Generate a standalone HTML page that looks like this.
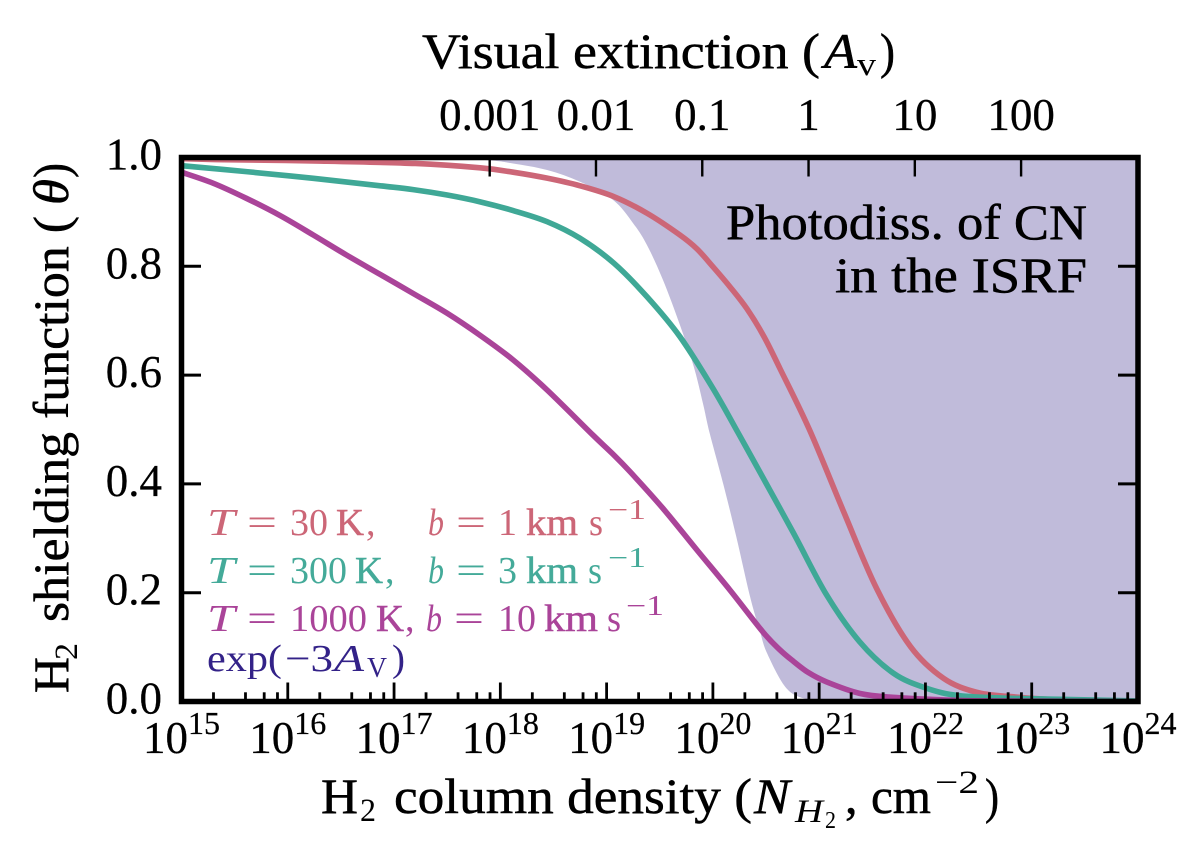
<!DOCTYPE html>
<html>
<head>
<meta charset="utf-8">
<title>H2 shielding function</title>
<style>
html,body{margin:0;padding:0;background:#fff;}
svg{display:block;}
text{font-family:"Liberation Serif","DejaVu Serif",serif;fill:#000;}
.lab{font-size:50px;stroke:#000;stroke-width:0.5px;}
.sub{font-size:33px;}
.tick{font-size:45px;stroke:#000;stroke-width:0.25px;}
.leg{font-size:38px;}
.legsup{font-size:28px;}
.i{font-style:italic;}
.red text{fill:#CC6677;}
.teal text{fill:#44AA99;}
.pur text{fill:#AA4499;}
.navy text{fill:#332288;}
</style>
</head>
<body>
<svg xmlns="http://www.w3.org/2000/svg" width="1200" height="859" viewBox="0 0 1200 859">
<defs><clipPath id="plot-clip"><rect x="181.5" y="157.5" width="956.5" height="544"/></clipPath></defs>
<rect x="0" y="0" width="1200" height="859" fill="#fff"/>
<g id="band-layer" clip-path="url(#plot-clip)"></g>
<g id="curve-layer" clip-path="url(#plot-clip)"></g>
<g id="tick-layer"></g>
<rect x="181.5" y="157.5" width="956.5" height="544" fill="none" stroke="#000" stroke-width="5.5"/>
<g id="label-layer"></g>

<g>
<text class="lab" x="422" y="68" textLength="398" lengthAdjust="spacingAndGlyphs">Visual extinction (</text>
<text class="lab i" x="824" y="68" textLength="33" lengthAdjust="spacingAndGlyphs">A</text>
<text class="sub" x="857" y="75" textLength="19" lengthAdjust="spacingAndGlyphs">v</text>
<text class="lab" x="880" y="68" textLength="15" lengthAdjust="spacingAndGlyphs">)</text>
</g>

<g>
<text class="lab" x="321" y="813" textLength="37" lengthAdjust="spacingAndGlyphs">H</text>
<text class="sub" x="360" y="821" textLength="16" lengthAdjust="spacingAndGlyphs">2</text>
<text class="lab" x="394" y="813" textLength="358" lengthAdjust="spacingAndGlyphs">column density (</text>
<text class="lab i" x="754" y="813" textLength="36" lengthAdjust="spacingAndGlyphs">N</text>
<text class="sub i" x="795" y="822" textLength="28" lengthAdjust="spacingAndGlyphs">H</text>
<text x="825" y="828" font-size="24" textLength="11" lengthAdjust="spacingAndGlyphs">2</text>
<text class="lab" x="845" y="813">,</text>
<text class="lab" x="871" y="813" textLength="60" lengthAdjust="spacingAndGlyphs">cm</text>
<text class="sub" x="935" y="793" textLength="44" lengthAdjust="spacingAndGlyphs">−2</text>
<text class="lab" x="985" y="813" textLength="14" lengthAdjust="spacingAndGlyphs">)</text>
</g>

<g transform="translate(68,0) rotate(-90)">
<text class="lab" x="-693" y="0" textLength="36" lengthAdjust="spacingAndGlyphs">H</text>
<text class="sub" x="-660" y="9" textLength="17" lengthAdjust="spacingAndGlyphs">2</text>
<text class="lab" x="-622" y="0" textLength="406" lengthAdjust="spacingAndGlyphs">shielding function (</text>
<text class="lab i" x="-205" y="0" textLength="26" lengthAdjust="spacingAndGlyphs">θ</text>
<text class="lab" x="-178" y="0" textLength="15" lengthAdjust="spacingAndGlyphs">)</text>
</g>

<g>
<text class="lab" x="726" y="239" textLength="361" lengthAdjust="spacingAndGlyphs">Photodiss. of CN</text>
<text class="lab" x="835" y="292" textLength="252" lengthAdjust="spacingAndGlyphs">in the ISRF</text>
</g>

<g class="red">
<text class="leg i" x="207" y="535" textLength="28" lengthAdjust="spacingAndGlyphs">T</text>
<text class="leg" x="247" y="535" textLength="30" lengthAdjust="spacingAndGlyphs">=</text>
<text class="leg" x="290" y="535" textLength="38" lengthAdjust="spacingAndGlyphs">30</text>
<text class="leg" x="336" y="535" textLength="28" lengthAdjust="spacingAndGlyphs" stroke="#CC6677" stroke-width="0.5">K</text>
<text class="leg" x="366" y="535">,</text>
<text class="leg i" x="428" y="535" textLength="16" lengthAdjust="spacingAndGlyphs">b</text>
<text class="leg" x="456" y="535" textLength="30" lengthAdjust="spacingAndGlyphs">=</text>
<text class="leg" x="498" y="535" textLength="19" lengthAdjust="spacingAndGlyphs">1</text>
<text class="leg" x="526" y="535" textLength="52" lengthAdjust="spacingAndGlyphs" stroke="#CC6677" stroke-width="0.5">km</text>
<text class="leg" x="589" y="535" textLength="14" lengthAdjust="spacingAndGlyphs">s</text>
<text class="legsup" x="608" y="519" textLength="38" lengthAdjust="spacingAndGlyphs">−1</text>
</g>
<g class="teal">
<text class="leg i" x="207" y="583" textLength="28" lengthAdjust="spacingAndGlyphs">T</text>
<text class="leg" x="247" y="583" textLength="30" lengthAdjust="spacingAndGlyphs">=</text>
<text class="leg" x="290" y="583" textLength="57" lengthAdjust="spacingAndGlyphs">300</text>
<text class="leg" x="355" y="583" textLength="28" lengthAdjust="spacingAndGlyphs" stroke="#44AA99" stroke-width="0.5">K</text>
<text class="leg" x="385" y="583">,</text>
<text class="leg i" x="428" y="583" textLength="16" lengthAdjust="spacingAndGlyphs">b</text>
<text class="leg" x="456" y="583" textLength="30" lengthAdjust="spacingAndGlyphs">=</text>
<text class="leg" x="498" y="583" textLength="19" lengthAdjust="spacingAndGlyphs">3</text>
<text class="leg" x="526" y="583" textLength="52" lengthAdjust="spacingAndGlyphs" stroke="#44AA99" stroke-width="0.5">km</text>
<text class="leg" x="588" y="583" textLength="14" lengthAdjust="spacingAndGlyphs">s</text>
<text class="legsup" x="608" y="567" textLength="38" lengthAdjust="spacingAndGlyphs">−1</text>
</g>
<g class="pur">
<text class="leg i" x="207" y="631" textLength="28" lengthAdjust="spacingAndGlyphs">T</text>
<text class="leg" x="247" y="631" textLength="30" lengthAdjust="spacingAndGlyphs">=</text>
<text class="leg" x="290" y="631" textLength="77" lengthAdjust="spacingAndGlyphs">1000</text>
<text class="leg" x="376" y="631" textLength="28" lengthAdjust="spacingAndGlyphs" stroke="#AA4499" stroke-width="0.5">K</text>
<text class="leg" x="405" y="631">,</text>
<text class="leg i" x="426" y="631" textLength="16" lengthAdjust="spacingAndGlyphs">b</text>
<text class="leg" x="454" y="631" textLength="30" lengthAdjust="spacingAndGlyphs">=</text>
<text class="leg" x="498" y="631" textLength="38" lengthAdjust="spacingAndGlyphs">10</text>
<text class="leg" x="544" y="631" textLength="54" lengthAdjust="spacingAndGlyphs" stroke="#AA4499" stroke-width="0.5">km</text>
<text class="leg" x="607" y="631" textLength="14" lengthAdjust="spacingAndGlyphs">s</text>
<text class="legsup" x="626" y="615" textLength="38" lengthAdjust="spacingAndGlyphs">−1</text>
</g>
<g class="navy">
<text x="207" y="671" font-size="38" textLength="75" lengthAdjust="spacingAndGlyphs">exp(</text>
<text x="285" y="671" font-size="38" textLength="48" lengthAdjust="spacingAndGlyphs">−3</text>
<text class="i" x="334" y="671" font-size="38" textLength="30" lengthAdjust="spacingAndGlyphs">A</text>
<text x="367" y="677" font-size="28" textLength="20" lengthAdjust="spacingAndGlyphs">V</text>
<text x="392" y="671" font-size="38" textLength="13" lengthAdjust="spacingAndGlyphs">)</text>
</g>

<script>
// x positions are log10(N_H2 / cm^-2), y values are the shielding function.
var logNRed = [15, 15.4, 16.3, 17.2, 17.81, 18.12, 18.44, 18.75, 19.07, 19.38, 19.69, 19.85, 20.0, 20.16, 20.32, 20.48, 20.63, 20.91, 21.23, 21.54, 21.86, 22.17, 22.48, 22.8, 23.27, 24];
var thetaRed = [0.998, 0.996, 0.9935, 0.989, 0.981, 0.973, 0.962, 0.948, 0.928, 0.8975, 0.8575, 0.832, 0.7993, 0.7625, 0.722, 0.671, 0.6125, 0.499, 0.349, 0.208, 0.1007, 0.0426, 0.017, 0.009, 0.003, 0.001];
var logNTeal = [15, 15.61, 16.24, 16.87, 17.18, 17.5, 17.81, 18.12, 18.44, 18.75, 19.07, 19.38, 19.69, 20.0, 20.24, 20.44, 20.76, 21.07, 21.38, 21.7, 22.01, 22.32, 22.8, 23.27, 24];
var thetaTeal = [0.985, 0.974, 0.9617, 0.948, 0.941, 0.931, 0.9185, 0.9025, 0.882, 0.8515, 0.8055, 0.744, 0.6706, 0.5757, 0.493, 0.4225, 0.309, 0.1958, 0.11, 0.0518, 0.0243, 0.0107, 0.006, 0.004, 0.001];
var logNPurple = [15, 15.3, 15.61, 15.93, 16.24, 16.55, 16.87, 17.18, 17.5, 17.81, 18.12, 18.44, 18.87, 19.05, 19.22, 19.53, 19.85, 20.16, 20.47, 20.63, 20.76, 20.9, 21.07, 21.38, 21.69, 22.17, 22.6, 24];
var thetaPurple = [0.973, 0.9526, 0.925, 0.893, 0.8575, 0.821, 0.785, 0.75, 0.7136, 0.673, 0.628, 0.5726, 0.49, 0.4565, 0.4225, 0.355, 0.2785, 0.205, 0.128, 0.095, 0.0735, 0.053, 0.036, 0.015, 0.0077, 0.003, 0.001, 0];
var logNBand = [15, 16.5, 17.3, 17.88, 18.12, 18.44, 18.75, 19.06, 19.25, 19.38, 19.53, 19.69, 19.82, 19.91, 19.97, 20.1, 20.22, 20.35, 20.44, 20.51, 20.68, 20.85, 21.1];
var thetaBand = [1, 1, 0.999, 0.995, 0.989, 0.977, 0.9555, 0.922, 0.879, 0.839, 0.775, 0.692, 0.6155, 0.545, 0.493, 0.398, 0.303, 0.1926, 0.131, 0.0886, 0.0272, 0.006, 0];
var xMajorExponents = [15, 16, 17, 18, 19, 20, 21, 22, 23, 24];
var xMinorFactors = [2, 4, 6, 8];
var yTickValues = [0, 0.2, 0.4, 0.6, 0.8, 1];
var yTickLabels = ["0.0", "0.2", "0.4", "0.6", "0.8", "1.0"];
var avTickValues = [0.001, 0.01, 0.1, 1, 10, 100];
var avTickLabels = ["0.001", "0.01", "0.1", "1", "10", "100"];
var logNPerAv = 20.9;

var NS = "http://www.w3.org/2000/svg";
function xScale(logN) { return 181.5 + (logN - 15) * (1138 - 181.5) / 9; }
function yScale(theta) { return 701.5 - theta * 544; }
function avToLogN(av) { return logNPerAv + Math.log(av) / Math.LN10; }

function smoothPath(xs, ys) {
  var d = "M" + xScale(xs[0]).toFixed(2) + "," + yScale(ys[0]).toFixed(2);
  for (var i = 0; i < xs.length - 1; i++) {
    var a = Math.max(i - 1, 0), b = i, c = i + 1, e = Math.min(i + 2, xs.length - 1);
    var x0 = xScale(xs[a]), y0 = yScale(ys[a]);
    var x1 = xScale(xs[b]), y1 = yScale(ys[b]);
    var x2 = xScale(xs[c]), y2 = yScale(ys[c]);
    var x3 = xScale(xs[e]), y3 = yScale(ys[e]);
    var c1x = x1 + (x2 - x0) / 6, c1y = y1 + (y2 - y0) / 6;
    var c2x = x2 - (x3 - x1) / 6, c2y = y2 - (y3 - y1) / 6;
    d += "C" + c1x.toFixed(2) + "," + c1y.toFixed(2) + " " + c2x.toFixed(2) + "," + c2y.toFixed(2) + " " + x2.toFixed(2) + "," + y2.toFixed(2);
  }
  return d;
}

var bandLayer = document.getElementById("band-layer");
var curveLayer = document.getElementById("curve-layer");
var tickLayer = document.getElementById("tick-layer");
var labelLayer = document.getElementById("label-layer");

var band = document.createElementNS(NS, "path");


band.setAttribute("d", smoothPath(logNBand, thetaBand) + "L" + xScale(24) + "," + yScale(0) + "L" + xScale(24) + "," + yScale(1) + "L" + xScale(15) + "," + yScale(1) + "Z");
band.setAttribute("fill", "#332288");
band.setAttribute("fill-opacity", "0.31");
bandLayer.appendChild(band);

var redLine = document.createElementNS(NS, "path");


redLine.setAttribute("d", smoothPath(logNRed, thetaRed));
redLine.setAttribute("fill", "none");
redLine.setAttribute("stroke", "#CC6677");
redLine.setAttribute("stroke-width", "5.6");
curveLayer.appendChild(redLine);

var tealLine = document.createElementNS(NS, "path");


tealLine.setAttribute("d", smoothPath(logNTeal, thetaTeal));
tealLine.setAttribute("fill", "none");
tealLine.setAttribute("stroke", "#3FA896");
tealLine.setAttribute("stroke-width", "5.6");
curveLayer.appendChild(tealLine);

var purpleLine = document.createElementNS(NS, "path");


purpleLine.setAttribute("d", smoothPath(logNPurple, thetaPurple));
purpleLine.setAttribute("fill", "none");
purpleLine.setAttribute("stroke", "#AA4499");
purpleLine.setAttribute("stroke-width", "5.6");
curveLayer.appendChild(purpleLine);

function addTick(x1, y1, x2, y2, w) {
  var t = document.createElementNS(NS, "line");
  
  
  t.setAttribute("x1", x1);
  t.setAttribute("y1", y1);
  t.setAttribute("x2", x2);
  t.setAttribute("y2", y2);
  t.setAttribute("stroke", "#000");
  t.setAttribute("stroke-width", w);
  tickLayer.appendChild(t);
}

xMajorExponents.forEach(function (exp, idx) {
  var x = xScale(exp);
  addTick(x, 701.5, x, 682.5, 2.8);
  if (idx < xMajorExponents.length - 1) {
    xMinorFactors.forEach(function (f) {
      var mx = xScale(exp + Math.log(f) / Math.LN10);
      addTick(mx, 701.5, mx, 692.3, 2.8);
    });
  }
  var label = document.createElementNS(NS, "text");
  
  
  label.setAttribute("class", "tick");
  label.setAttribute("x", x);
  label.setAttribute("y", "753");
  label.setAttribute("text-anchor", "middle");
  var base = document.createElementNS(NS, "tspan");
  base.textContent = "10";
  var power = document.createElementNS(NS, "tspan");
  power.setAttribute("font-size", "32");
  power.setAttribute("dy", "-19");
  power.textContent = String(exp);
  label.appendChild(base);
  label.appendChild(power);
  labelLayer.appendChild(label);
});

yTickValues.forEach(function (v, i) {
  var y = yScale(v);
  if (v > 0 && v < 1) {
    addTick(181.5, y, 201, y, 3);
    addTick(1138, y, 1118, y, 3);
  }
  var label = document.createElementNS(NS, "text");
  
  
  label.setAttribute("class", "tick");
  label.setAttribute("x", "162");
  label.setAttribute("y", y + 12);
  label.setAttribute("text-anchor", "end");
  label.textContent = yTickLabels[i];
  labelLayer.appendChild(label);
});

avTickValues.forEach(function (av, i) {
  var x = xScale(avToLogN(av));
  addTick(x, 157.5, x, 176.5, 2.4);
  var label = document.createElementNS(NS, "text");
  
  
  label.setAttribute("class", "tick");
  label.setAttribute("x", x);
  label.setAttribute("y", "130");
  label.setAttribute("text-anchor", "middle");
  label.textContent = avTickLabels[i];
  labelLayer.appendChild(label);
});
</script>
</svg>
</body>
</html>
